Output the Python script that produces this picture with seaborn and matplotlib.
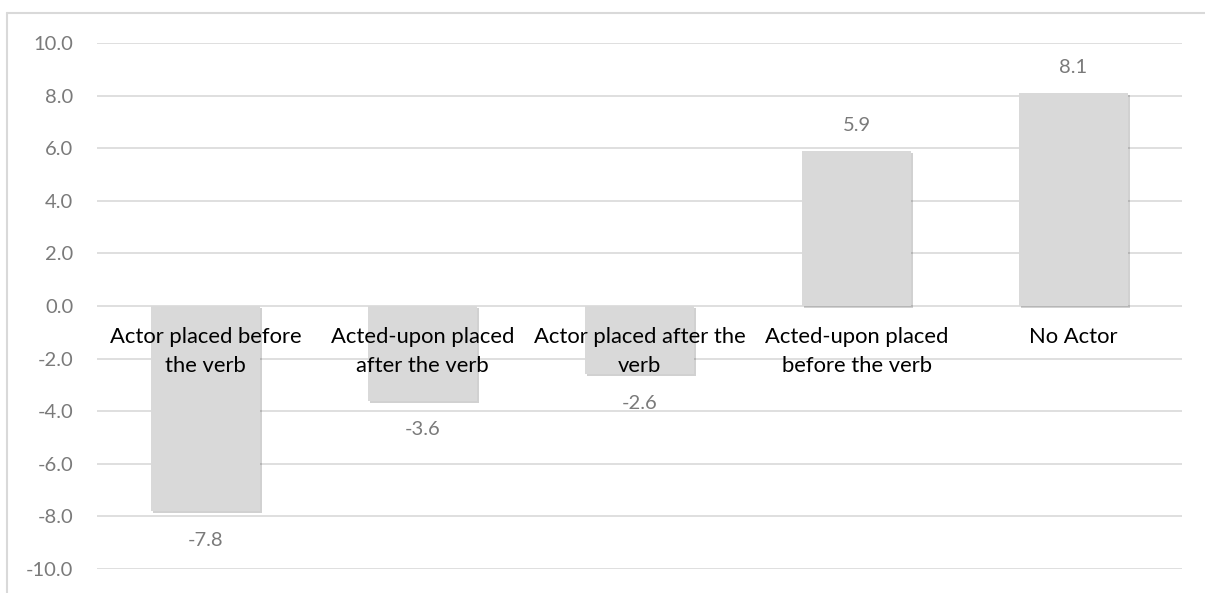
import matplotlib
matplotlib.use("Agg")
import matplotlib.pyplot as plt
import matplotlib.patheffects as pe
from matplotlib.lines import Line2D
import seaborn as sns
import pandas as pd

categories = [
    "Actor placed before\nthe verb",
    "Acted-upon placed\nafter the verb",
    "Actor placed after the\nverb",
    "Acted-upon placed\nbefore the verb",
    "No Actor",
]
values = [-7.8, -3.6, -2.6, 5.9, 8.1]
y_ticks = [-10, -8, -6, -4, -2, 0, 2, 4, 6, 8, 10]

sns.set_theme(style="white")
plt.rcParams["font.family"] = ["Lato", "DejaVu Sans"]

W, H = 1205, 593
fig = plt.figure(figsize=(W / 100, H / 100), dpi=100)
ax = fig.add_axes([97 / W, 1 - 569 / H, (1182 - 97) / W, (569 - 43) / H])

df = pd.DataFrame({"category": categories, "value": values})
sns.barplot(data=df, x="category", y="value", color="#d9d9d9", saturation=1,
            width=0.5, ax=ax, zorder=3)

for bar in ax.patches:
    bar.set_edgecolor("none")
    bar.set_path_effects([pe.SimplePatchShadow(offset=(1.5, -1.5), shadow_rgbFace="#000000", alpha=0.18),
                          pe.Normal()])

ax.set_ylim(-10, 10)
ax.set_yticks(y_ticks)
ax.set_yticklabels([f"{t:.1f}" for t in y_ticks])
ax.set_xlim(-0.5, len(categories) - 0.5)
ax.set_xticks([])
ax.set_xlabel("")
ax.set_ylabel("")
ax.tick_params(axis="y", length=0, pad=17, labelsize=14.5, labelcolor="#7a7a7a")
for s in ax.spines.values():
    s.set_visible(False)
for t in y_ticks:
    ax.axhline(t, color="#d9d9d9", lw=1.2, zorder=1)

# value labels above positive bars, below negative ones
for i, v in enumerate(values):
    off = 18 if v >= 0 else -21
    ax.annotate(f"{v:.1f}", (i, v), xytext=(0, off), textcoords="offset points",
                ha="center", va="center", fontsize=14.5, color="#7a7a7a", zorder=5)

# category names drawn just under the zero line
for i, c in enumerate(categories):
    ax.annotate(c, (i, 0), xytext=(0, -15), textcoords="offset points",
                ha="center", va="top", fontsize=15.8, color="#000000",
                linespacing=1.55, zorder=6)

# chart area outline
fig.add_artist(Line2D([7 / W, 1], [1 - 13 / H, 1 - 13 / H], color="#d9d9d9", lw=1.5))
fig.add_artist(Line2D([7 / W, 7 / W], [1 - 13 / H, 0], color="#d9d9d9", lw=1.5))

fig.savefig("out.png", dpi=100)
